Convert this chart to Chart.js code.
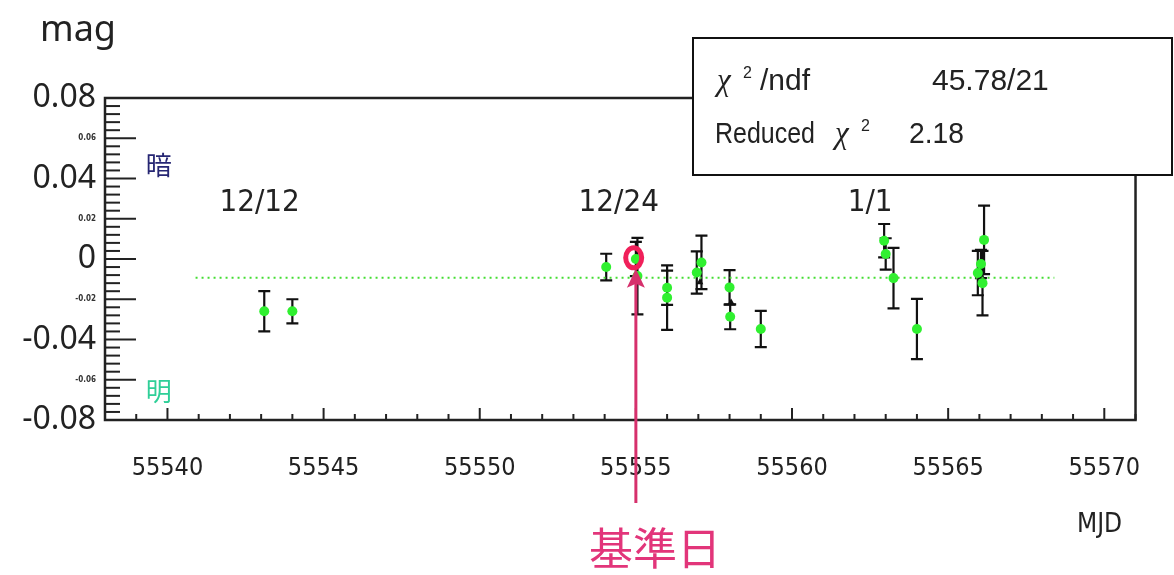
<!DOCTYPE html>
<html>
<head>
<meta charset="utf-8">
<script src="https://cdn.jsdelivr.net/npm/chart.js@4/dist/chart.umd.min.js"></script>
<style>
  html, body { margin: 0; padding: 0; background: #fff; }
  canvas { display: block; }
</style>
</head>
<body>
<canvas id="lc" width="1174" height="575"></canvas>
<script>
// ── Data ─────────────────────────────────────────────────────────────────────
const mjd    = [55543.1, 55544.0, 55554.05, 55555.0, 55555.05, 55556.0, 55556.0, 55556.95, 55557.1,
                55558.0, 55558.02, 55559.0, 55562.95, 55563.0, 55563.25, 55564.0,
                55565.95, 55566.05, 55566.1, 55566.15];
const mag    = [-0.026, -0.026, -0.004, 0.0, -0.0085, -0.0143, -0.0192, -0.0067, -0.0017,
                -0.0141, -0.0287, -0.0348, 0.0091, 0.0025, -0.0095, -0.0348,
                -0.007, -0.0025, -0.012, 0.0095];
const magErr = [0.010, 0.006, 0.0066, 0.0085, 0.019, 0.0085, 0.016, 0.0105, 0.0133,
                0.0086, 0.0062, 0.009, 0.0083, 0.0078, 0.015, 0.015,
                0.011, 0.007, 0.016, 0.017];

// black overlapping markers
const blackMjd = [55557.05, 55558.05, 55566.1];
const blackMag = [-0.0116, -0.0216, -0.0097];

// constant fit
const fitLevel = -0.0093;
const fitRange = [55540.9, 55568.4];

// axes
const xRange  = [55538, 55571];
const xTicks  = [55540, 55545, 55550, 55555, 55560, 55565, 55570];
const yRange  = [-0.08, 0.08];
const yTicks  = [-0.08, -0.06, -0.04, -0.02, 0, 0.02, 0.04, 0.06, 0.08];

// date markers
const dateLabels = ["12/12", "12/24", "1/1"];
const dateMjd    = [55542.95, 55554.45, 55562.5];
const refMjd     = 55555;

// fit statistics
const chi2Text    = "45.78/21";
const reducedText = "2.18";

const NARROW = '"DejaVu Sans Condensed", "Liberation Sans", sans-serif';
const SANS   = '"Liberation Sans", sans-serif';
const CJK    = '"Noto Sans CJK JP", sans-serif';

const isBigTick = c => !c.tick || Math.abs(Math.round(c.tick.value * 100) % 4) === 0;

// text squeezed horizontally to a given width (the original uses a narrow gothic face)
function fitText(ctx, text, x, y, width) {
  const w = ctx.measureText(text).width;
  ctx.save();
  ctx.translate(x, y);
  ctx.scale(Math.min(1, width / w), 1);
  ctx.fillText(text, 0, 0);
  ctx.restore();
}

// ── Frame, inward ticks and error bars ───────────────────────────────────────
const frameAndErrors = {
  id: "frameAndErrors",
  beforeDatasetsDraw(chart) {
    const { ctx, chartArea: a, scales: { x, y } } = chart;
    ctx.save();
    ctx.strokeStyle = "#222";
    ctx.lineWidth = 2.5;
    ctx.strokeRect(a.left, a.top, a.right - a.left, a.bottom - a.top);

    // y ticks: major every 0.02, minor every 0.004
    ctx.lineWidth = 2;
    for (let i = 0; i <= 40; i++) {
      const py = y.getPixelForValue(yRange[0] + i * 0.004);
      const len = i % 5 === 0 ? 31 : 15;
      ctx.beginPath();
      ctx.moveTo(a.left, py);
      ctx.lineTo(a.left + len, py);
      ctx.stroke();
    }
    // x ticks: major every 5 days, minor every day
    for (let d = xRange[0]; d <= xRange[1]; d++) {
      const px = x.getPixelForValue(d);
      const len = d % 5 === 0 ? 12 : 6;
      ctx.beginPath();
      ctx.moveTo(px, a.bottom);
      ctx.lineTo(px, a.bottom - len);
      ctx.stroke();
    }

    // error bars
    ctx.strokeStyle = "#111";
    ctx.lineWidth = 2.2;
    mjd.forEach((m, i) => {
      const px = x.getPixelForValue(m);
      const top = y.getPixelForValue(mag[i] + magErr[i]);
      const bot = y.getPixelForValue(mag[i] - magErr[i]);
      ctx.beginPath();
      ctx.moveTo(px, top); ctx.lineTo(px, bot);
      ctx.moveTo(px - 6, top); ctx.lineTo(px + 6, top);
      ctx.moveTo(px - 6, bot); ctx.lineTo(px + 6, bot);
      ctx.stroke();
    });
    ctx.restore();
  }
};

// ── Stats box, labels, reference-day arrow ───────────────────────────────────
const annotations = {
  id: "annotations",
  afterDraw(chart) {
    const { ctx, scales: { x, y } } = chart;
    ctx.save();

    // axis titles
    ctx.fillStyle = "#222";
    ctx.textBaseline = "alphabetic";
    ctx.font = '36px "Noto Sans", sans-serif';
    ctx.fillText("mag", 40, 41);
    ctx.font = "26px " + NARROW;
    ctx.fillText("MJD", 1077, 532);

    // date labels
    ctx.font = "31px " + NARROW;
    ctx.textAlign = "center";
    ctx.textBaseline = "middle";
    dateLabels.forEach((t, i) => ctx.fillText(t, x.getPixelForValue(dateMjd[i]), y.getPixelForValue(0.028)));

    // 暗 / 明
    ctx.font = "26px " + CJK;
    ctx.fillStyle = "#262673";
    ctx.fillText("暗", x.getPixelForValue(55539.72), y.getPixelForValue(0.0464));
    ctx.fillStyle = "#2fcf98";
    ctx.fillText("明", x.getPixelForValue(55539.72), y.getPixelForValue(-0.0655));

    // stats box
    ctx.fillStyle = "#fff";
    ctx.fillRect(693, 38, 479, 137);
    ctx.strokeStyle = "#111";
    ctx.lineWidth = 2;
    ctx.strokeRect(693, 38, 479, 137);
    ctx.fillStyle = "#222";
    ctx.textAlign = "left";
    ctx.textBaseline = "alphabetic";
    ctx.font = 'italic 31px "Liberation Serif", serif';
    ctx.fillText("χ", 717, 90);
    ctx.fillText("χ", 835, 143);
    ctx.font = "16px " + SANS;
    ctx.fillText("2", 743, 78);
    ctx.fillText("2", 861, 131);
    ctx.font = "30px " + SANS;
    fitText(ctx, "/ndf", 760, 90, 56);
    fitText(ctx, chi2Text, 932, 90, 118);
    fitText(ctx, "Reduced", 715, 143, 100);
    fitText(ctx, reducedText, 909, 143, 55);

    // reference-day arrow
    const rx = x.getPixelForValue(refMjd);
    const tip = y.getPixelForValue(-0.0048);
    ctx.strokeStyle = "#d6306c";
    ctx.fillStyle = "#d6306c";
    ctx.lineWidth = 3;
    ctx.beginPath();
    ctx.moveTo(rx, 503);
    ctx.lineTo(rx, tip + 14);
    ctx.stroke();
    ctx.beginPath();
    ctx.moveTo(rx, tip);
    ctx.lineTo(rx - 9, tip + 19);
    ctx.lineTo(rx, tip + 15);
    ctx.lineTo(rx + 9, tip + 19);
    ctx.closePath();
    ctx.fill();

    // circle around reference point
    ctx.strokeStyle = "#f0205a";
    ctx.lineWidth = 5;
    ctx.beginPath();
    ctx.ellipse(x.getPixelForValue(55554.93), y.getPixelForValue(0.0006), 8, 10, 0, 0, Math.PI * 2);
    ctx.stroke();

    ctx.fillStyle = "#e2357a";
    ctx.font = "44px " + CJK;
    ctx.textAlign = "center";
    ctx.textBaseline = "middle";
    ctx.fillText("基準日", 655, 548);

    ctx.restore();
  }
};

new Chart(document.getElementById("lc"), {
  type: "scatter",
  data: {
    datasets: [
      {
        type: "line",
        data: fitRange.map(m => ({ x: m, y: fitLevel })),
        borderColor: "#44dd33",
        borderWidth: 2,
        borderDash: [2, 4],
        pointRadius: 0
      },
      {
        data: mjd.map((m, i) => ({ x: m, y: mag[i] })),
        backgroundColor: "#30f030",
        borderWidth: 0,
        pointRadius: 5
      },
      {
        data: blackMjd.map((m, i) => ({ x: m, y: blackMag[i] })),
        pointStyle: "triangle",
        backgroundColor: "#111",
        borderWidth: 0,
        pointRadius: 4
      }
    ]
  },
  options: {
    responsive: false,
    devicePixelRatio: 1,
    animation: false,
    layout: { padding: { top: 98, right: 31, left: 0, bottom: 0 } },
    plugins: { legend: { display: false }, tooltip: { enabled: false } },
    scales: {
      x: {
        type: "linear",
        position: "bottom",
        min: xRange[0],
        max: xRange[1],
        grid: { display: false, drawTicks: false },
        border: { display: false },
        afterBuildTicks: s => { s.ticks = xTicks.map(v => ({ value: v })); },
        afterFit: s => { s.height = 155; },
        ticks: {
          padding: 33,
          color: "#222",
          font: { family: NARROW, size: 25 },
          maxRotation: 0,
          autoSkip: false,
          callback: v => String(v)
        }
      },
      y: {
        position: "left",
        min: yRange[0],
        max: yRange[1],
        grid: { display: false, drawTicks: false },
        border: { display: false },
        afterBuildTicks: s => { s.ticks = yTicks.map(v => ({ value: v })); },
        afterFit: s => { s.width = 105; },
        ticks: {
          padding: 9,
          autoSkip: false,
          color: c => isBigTick(c) ? "#222" : "#333",
          font: c => isBigTick(c)
            ? { family: '"Noto Sans", sans-serif', size: 32 }
            : { family: NARROW, size: 8, weight: "bold" },
          callback: v => {
            const r = Math.round(v * 100) / 100;
            return r === 0 ? "0" : r.toFixed(2);
          }
        }
      }
    }
  },
  plugins: [frameAndErrors, annotations]
});
</script>
</body>
</html>
